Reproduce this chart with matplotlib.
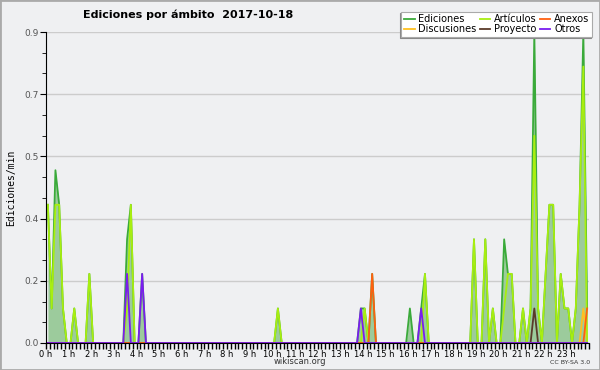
import matplotlib.pyplot as plt
import numpy as np
from matplotlib.patches import Rectangle
from matplotlib.ticker import FixedLocator, MultipleLocator, FuncFormatter

# edits per 10-minute slot, 144 slots over the day
ediciones = [4,1,5,4,1,0, 0,1,0,0,0,2,
             0,0,0,0,0,0, 0,0,0,3,4,0,
             0,2,0,0,0,0, 0,0,0,0,0,0,
             0,0,0,0,0,0, 0,0,0,0,0,0,
             0,0,0,0,0,0, 0,0,0,0,0,0,
             0,1,0,0,0,0, 0,0,0,0,0,0,
             0,0,0,0,0,0, 0,0,0,0,0,1,
             1,0,2,0,0,0, 0,0,0,0,0,0,
             1,0,0,1,2,0, 0,0,0,0,0,0,
             0,0,0,0,0,3, 0,0,3,0,1,0,
             0,3,2,2,0,0, 1,0,1,9,1,0,
             2,4,4,0,2,1, 1,0,1,4,9,1]
articulos = [4,1,4,4,1,0, 0,1,0,0,0,2,
             0,0,0,0,0,0, 0,0,0,1,4,0,
             0,0,0,0,0,0, 0,0,0,0,0,0,
             0,0,0,0,0,0, 0,0,0,0,0,0,
             0,0,0,0,0,0, 0,0,0,0,0,0,
             0,1,0,0,0,0, 0,0,0,0,0,0,
             0,0,0,0,0,0, 0,0,0,0,0,0,
             1,0,0,0,0,0, 0,0,0,0,0,0,
             0,0,0,0,2,0, 0,0,0,0,0,0,
             0,0,0,0,0,3, 0,0,3,0,1,0,
             0,1,2,2,0,0, 1,0,1,6,1,0,
             2,4,4,0,2,1, 1,0,1,4,8,0]
anexos_slots = [86, 143]
anexos_vals = [2, 1]
discusiones_slots = [142]
discusiones_vals = [1]
proyecto_slots = [129]
proyecto_vals = [1]
otros_slots = [21, 25, 83, 99]
otros_vals = [2, 2, 1, 1]

def full(slots, vals):
    out = np.zeros(144)
    out[slots] = vals
    return out

t = (np.arange(144) + 0.5) / 6.0
ed = np.array(ediciones) / 10.0
ar = np.array(articulos) / 10.0
an = full(anexos_slots, anexos_vals) / 10.0
di = full(discusiones_slots, discusiones_vals) / 10.0
pr = full(proyecto_slots, proyecto_vals) / 10.0
ot = full(otros_slots, otros_vals) / 10.0

bg = '#eff0f2'
fig = plt.figure(figsize=(6, 3.7), dpi=100, facecolor=bg)
ax = fig.add_axes([46/600, 1-343/370, 543/600, 311/370], facecolor=bg)

ax.fill_between(t, 0, ed, color='#9ccb9c', lw=0)
ax.plot(t, ed, color='#3aaa3a', lw=1.3, label='Ediciones')
ax.plot(t, di, color='#ffc020', lw=1.3, label='Discusiones')
ax.plot(t, ar, color='#a8ee10', lw=1.3, label='Artículos')
ax.plot(t, pr, color='#5a3a2a', lw=1.3, label='Proyecto')
ax.plot(t, an, color='#ff6010', lw=1.3, label='Anexos')
ax.plot(t, ot, color='#7a1cf0', lw=1.3, label='Otros')

ax.set_xlim(0, 24)
ax.set_ylim(0, 0.9)
ax.xaxis.set_major_locator(MultipleLocator(1))
ax.xaxis.set_minor_locator(MultipleLocator(1/6))
ax.xaxis.set_major_formatter(FuncFormatter(lambda v, p: '%d h' % v if v < 24 else ''))
ax.yaxis.set_major_locator(FixedLocator(np.linspace(0, 0.9, 6)))
ax.yaxis.set_minor_locator(FixedLocator(np.linspace(0, 0.9, 16)))
ax.yaxis.set_major_formatter(FuncFormatter(lambda v, p: '%.1f' % v))
ax.tick_params(axis='x', which='both', direction='out', length=4, width=1, labelsize=6, pad=1)
ax.tick_params(axis='y', which='major', direction='out', length=4, labelsize=6.5, labelcolor='#555555', pad=1)
ax.tick_params(axis='y', which='minor', direction='out', length=3)
ax.grid(axis='y', which='major', color='#cccccc', lw=1)
ax.set_axisbelow(True)
for s in ['top', 'right']:
    ax.spines[s].set_visible(False)
ax.set_ylabel('Ediciones/min', family='DejaVu Sans Mono', fontsize=7, labelpad=6)

fig.text(188/600, 1-15/370, 'Ediciones por ámbito  2017-10-18', ha='center', va='center',
         fontsize=8, fontweight='bold')
fig.text(300/600, 1-362/370, 'wikiscan.org', ha='center', va='center', fontsize=6, color='#333333')
fig.text(590/600, 1-362/370, 'CC BY-SA 3.0', ha='right', va='center', fontsize=4.5, color='#333333')

leg = fig.legend(loc='upper right', bbox_to_anchor=(592/600, 1-12/370), ncol=3, fontsize=7,
                 frameon=True, fancybox=False, handlelength=1.1, handletextpad=0.4,
                 columnspacing=0.3, labelspacing=0.0, borderpad=0.25, borderaxespad=0,
                 shadow={'ox': -1, 'oy': -1, 'color': '#888888', 'alpha': 1})
leg.get_frame().set_edgecolor('#aaaaaa')
leg.get_frame().set_linewidth(0.8)

fig.patches.append(Rectangle((0, 0), 1, 1, transform=fig.transFigure, fill=False,
                             edgecolor='#aaaaaa', lw=2))
fig.savefig('out.png', dpi=100, facecolor=bg)
